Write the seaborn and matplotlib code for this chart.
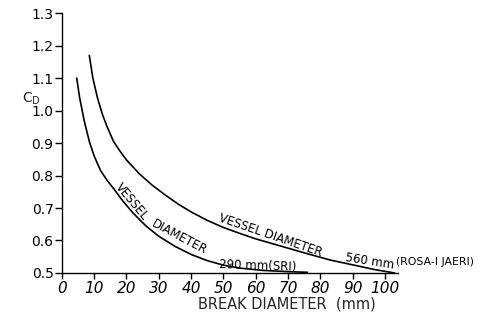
import matplotlib
matplotlib.use("Agg")
import matplotlib.pyplot as plt
import seaborn as sns
import pandas as pd

# Upper curve: vessel diameter 560 mm (ROSA-I JAERI)
x_560 = [8.5, 9.6, 11, 12.5, 14, 16, 18, 20, 24, 28, 32, 36, 40, 45, 50, 55, 60, 67, 75, 83, 90, 97, 103]
cd_560 = [1.17, 1.10, 1.04, 0.99, 0.95, 0.905, 0.875, 0.848, 0.805, 0.77, 0.74, 0.712, 0.688, 0.662,
          0.64, 0.622, 0.605, 0.585, 0.562, 0.54, 0.525, 0.51, 0.5]
# Lower curve: vessel diameter 290 mm (SRI)
x_290 = [4.6, 5.5, 7, 8.5, 10, 12, 14, 16, 19, 22, 26, 30, 35, 40, 45, 50, 55, 62, 70, 76]
cd_290 = [1.10, 1.04, 0.965, 0.905, 0.86, 0.815, 0.785, 0.76, 0.72, 0.685, 0.645, 0.613, 0.582,
          0.557, 0.538, 0.524, 0.515, 0.508, 0.504, 0.502]

x_ticks = [0, 10, 20, 30, 40, 50, 60, 70, 80, 90, 100]
y_ticks = [0.5, 0.6, 0.7, 0.8, 0.9, 1.0, 1.1, 1.2, 1.3]

df = pd.concat([
    pd.DataFrame({"d": x_560, "cd": cd_560, "series": "560"}),
    pd.DataFrame({"d": x_290, "cd": cd_290, "series": "290"}),
])

sns.set_theme(style="ticks")
plt.rcParams["font.family"] = ["DejaVu Sans"]

fig = plt.figure(figsize=(4.87, 3.2), dpi=100)
ax = fig.add_axes([0.127, 0.147, 0.690, 0.812])

sns.lineplot(data=df, x="d", y="cd", units="series", estimator=None, sort=False,
             color="black", linewidth=1.2, ax=ax, legend=False)

ax.set_xlim(0, 104)
ax.set_ylim(0.5, 1.3)
ax.set_xticks(x_ticks)
ax.set_xticklabels([str(t) for t in x_ticks], fontsize=11, style="italic")
ax.set_yticks(y_ticks)
ax.set_yticklabels([f"{t:.1f}" for t in y_ticks], fontsize=10)
ax.tick_params(axis="x", direction="out", length=4, width=1, pad=2, colors="black")
ax.tick_params(axis="y", direction="out", length=5, width=1, pad=1, colors="black")
for s in ["top", "right"]:
    ax.spines[s].set_visible(False)
for s in ["left", "bottom"]:
    ax.spines[s].set_color("black")
    ax.spines[s].set_linewidth(1.0)

ax.set_xlabel("BREAK DIAMETER  (mm)", fontsize=10.5)
ax.xaxis.set_label_coords(0.67, -0.09)
ax.set_ylabel("")
fig.text(0.045, 0.69, r"$\mathregular{C_D}$", fontsize=10, ha="left", va="center")

kw = dict(fontsize=8.5, color="black", ha="left", va="bottom", rotation_mode="anchor")
ax.text(15.8, 0.758, "VESSEL", rotation=-50, **kw)
ax.text(27.2, 0.637, "DIAMETER", rotation=-28, **kw)
ax.text(48.5, 0.507, "290 mm(SRI)", rotation=-2, **kw)
ax.text(48, 0.65, "VESSEL DIAMETER", rotation=-19, **kw)
ax.text(87.6, 0.528, "560 mm", rotation=-9, **kw)
ax.text(103.3, 0.534, "(ROSA-I JAERI)", clip_on=False, fontsize=7.8, color="black",
        ha="left", va="center")

sns.despine(ax=ax)
fig.savefig("out.png", dpi=100)
